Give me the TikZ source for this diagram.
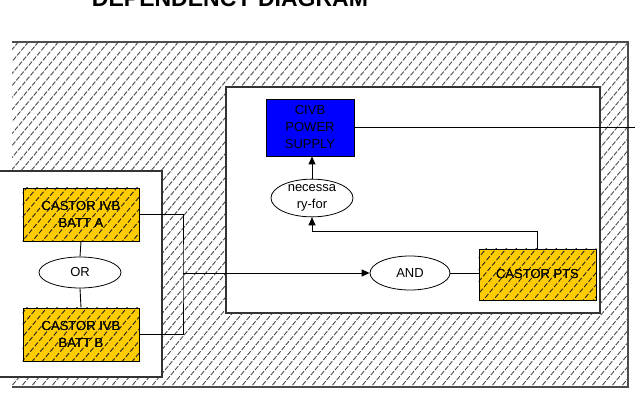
\documentclass[tikz,border=0pt]{standalone}
\usepackage{fontspec}
\setmainfont{Liberation Sans}
\usetikzlibrary{arrows.meta,shapes.geometric,calc}
\definecolor{gold}{RGB}{255,204,0}
\definecolor{pblue}{RGB}{0,0,255}
\tikzset{
  lbl/.style={font=\fontsize{13}{17}\selectfont, align=center},
  goldbox/.style={rectangle, draw=black, line width=0.9pt, inner sep=0pt, lbl},
  bluebox/.style={rectangle, draw=black, fill=pblue, line width=0.9pt, inner sep=0pt, lbl},
  ell/.style={ellipse, draw=black, fill=white, line width=0.8pt, inner sep=0pt, lbl},
  conn/.style={draw=black, line width=0.9pt},
  arr/.style={conn, -{Triangle[length=8pt,width=7pt]}},
  whitebox/.style={draw=black!80, fill=white, line width=1.2pt},
  hatchA/.style={draw=black!70, line width=0.9pt, dash pattern=on 5pt off 1.5pt},
  hatchB/.style={draw=black!85, line width=0.9pt, dash pattern=on 5pt off 2pt},
}
\begin{document}
\begin{tikzpicture}[x=1pt,y=-1pt]
\useasboundingbox (0,0) rectangle (635,393);
\clip (0,0) rectangle (635,393);
% title (cut off at top)
\node[anchor=base, font=\bfseries\fontsize{23}{25}\selectfont, inner sep=0pt] (title) at (230,7) {DEPENDENCY DIAGRAM};
% outer hatched region
\begin{scope}
  \clip (12,42) rectangle (628,387);
  \foreach \i in {-400,-390,...,640} {
    \draw[hatchA] (\i,400) -- ++(350,-420);
  }
\end{scope}
\draw[draw=black!70, line width=1.3pt] (12,42) -- (628,42) -- (628,387) -- (12,387);
% white boxes
\draw[whitebox] (-5,171) rectangle (162,377);
\draw[whitebox] (226,87) rectangle (600,313);
% nodes
\node[goldbox, fill=gold, minimum width=116pt, minimum height=53pt] (battA) at (81,214.5) {CASTOR IVB\\BATT A};
\node[goldbox, fill=gold, minimum width=116pt, minimum height=53pt] (battB) at (81,334.5) {CASTOR IVB\\BATT B};
\node[goldbox, fill=gold, minimum width=117pt, minimum height=51pt] (pts) at (537.5,274.5) {CASTOR PTS};
% hatching on gold boxes
\foreach \n in {battA,battB,pts} {
  \begin{scope}
    \clip (\n.north west) rectangle (\n.south east);
    \foreach \i in {-400,-390,...,700} {
      \draw[hatchB] (\i,400) -- ++(350,-420);
    }
  \end{scope}
}
\node[goldbox, minimum width=116pt, minimum height=53pt] at (battA) {CASTOR IVB\\BATT A};
\node[goldbox, minimum width=116pt, minimum height=53pt] at (battB) {CASTOR IVB\\BATT B};
\node[goldbox, minimum width=117pt, minimum height=51pt] at (pts) {CASTOR PTS};
\node[ell, minimum width=82pt, minimum height=31pt] (or) at (80,272.5) {OR};
\node[ell, minimum width=80pt, minimum height=34pt] (and) at (410,273) {AND};
\node[ell, minimum width=82pt, minimum height=34pt] (nec) at (312,198) {necessa\\ry-for};
\node[bluebox, minimum width=88pt, minimum height=57pt] (civb) at (310,127.5) {CIVB\\POWER\\SUPPLY};
% connectors
\coordinate (j) at (183,273);
\coordinate (rout) at (640,128);
\draw[conn] (battA.south) -- (or.north);
\draw[conn] (or.south) -- (battB.north);
\draw[conn] (battA.east) -| (j) |- (battB.east);
\draw[arr] (j) -- (and.west);
\draw[conn] (and.east) -- (and.east -| pts.west);
\draw[arr] (pts.north) -- ++(0,-17) -| (nec.south);
\draw[arr] (nec.north) -- (nec.north |- civb.south);
\draw[conn] (civb.east) -- (civb.east -| rout);
\end{tikzpicture}
\end{document}
